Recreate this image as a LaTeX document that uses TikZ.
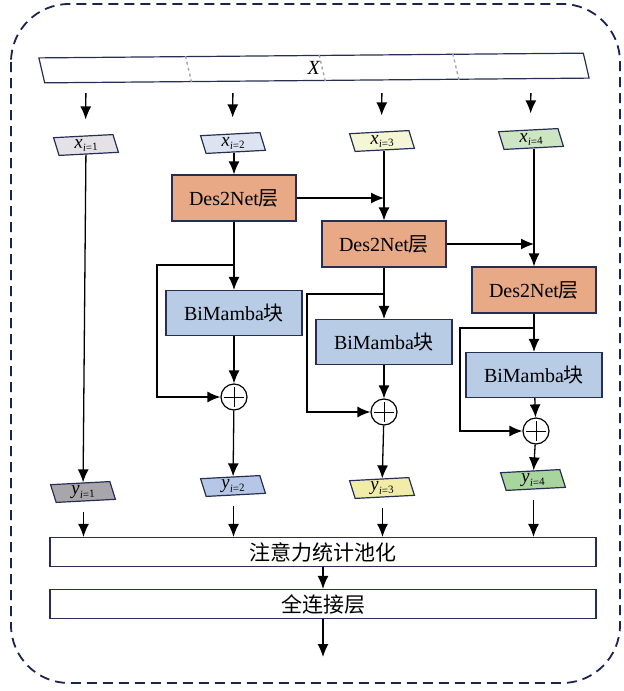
\documentclass[tikz,border=0pt]{standalone}
\usepackage{fontspec}
\setmainfont{Liberation Serif}
\newfontfamily\cjk{Noto Sans CJK SC}
\usepackage{tikz}
\usetikzlibrary{calc, arrows.meta, shapes.geometric}
\tikzset{>={Latex[length=13pt,width=11pt]}}
\definecolor{myframe}{RGB}{38, 46, 84}
\definecolor{mynavy}{RGB}{26, 36, 80}
\definecolor{mysalmon}{RGB}{232, 169, 135}
\definecolor{myblue}{RGB}{184, 204, 230}
\definecolor{myxa}{RGB}{228, 226, 230}
\definecolor{myxb}{RGB}{220, 227, 241}
\definecolor{myxc}{RGB}{244, 246, 213}
\definecolor{myxd}{RGB}{205, 229, 195}
\definecolor{myya}{RGB}{168, 166, 170}
\definecolor{myyb}{RGB}{182, 198, 230}
\definecolor{myyc}{RGB}{241, 237, 168}
\definecolor{myyd}{RGB}{168, 212, 158}
\newcommand{\zh}[1]{{\cjk #1}}
\newcommand{\sublab}[2]{\textit{#1}\raisebox{-0.2em}{\fontsize{11}{11}\selectfont\textit{i}=#2}}
\tikzset{
  blk/.style={draw=myframe, line width=1.2pt, minimum width=124pt, minimum height=46pt,
    font=\fontsize{20}{24}\selectfont},
  desnet/.style={blk, fill=mysalmon},
  mamba/.style={blk, fill=myblue, minimum width=136pt, minimum height=45pt},
  feat/.style={trapezium, trapezium left angle=110, trapezium right angle=70,
    trapezium stretches body=true, draw=myframe, line width=1.2pt, minimum width=64pt,
    minimum height=18pt, inner sep=0pt, rotate=3, font=\fontsize{19}{19}\selectfont},
  bar/.style={trapezium, trapezium left angle=113, trapezium right angle=67,
    trapezium stretches body=true, draw=myframe, line width=1.2pt, minimum width=550pt,
    minimum height=25pt, inner sep=0pt, rotate=0.5, font=\fontsize{20}{20}\selectfont},
  plus/.style={circle, draw, line width=1.2pt, minimum size=26pt, inner sep=0pt},
  wide/.style={draw=myframe, line width=1.2pt, minimum width=546pt, minimum height=29pt,
    font=\fontsize{21}{24}\selectfont},
}

\begin{document}
\begin{tikzpicture}[x=1pt, y=-1pt, line width=1.3pt]
\useasboundingbox (0,0) rectangle (624,691);
\draw[mynavy, line width=1.8pt, dash pattern=on 10pt off 6pt, rounded corners=58pt] (11,4) rectangle (620,683);

\node[bar] (X) at (314,68) {\textit{X}};
\foreach \f in {0.27,0.515,0.76}
  \draw[gray!70, dashed, line width=1.4pt] ($(X.top left corner)!\f!(X.top right corner)$) -- ($(X.bottom left corner)!\f!(X.bottom right corner)$);

\node[feat, fill=myxa] (x1) at (86,145) {\sublab{x}{1}};
\node[feat, fill=myxb] (x2) at (233,143) {\sublab{x}{2}};
\node[feat, fill=myxc] (x3) at (382,141) {\sublab{x}{3}};
\node[feat, fill=myxd] (x4) at (531,139) {\sublab{x}{4}};

\node[desnet] (d1) at (234,198) {Des2Net\zh{层}};
\node[desnet] (d2) at (384,244) {Des2Net\zh{层}};
\node[desnet] (d3) at (534,290) {Des2Net\zh{层}};
\node[mamba] (m1) at (234,313) {BiMamba\zh{块}};
\node[mamba] (m2) at (384,342) {BiMamba\zh{块}};
\node[mamba] (m3) at (534,375) {BiMamba\zh{块}};
\node[plus] (p1) at (234,397) {};
\node[plus] (p2) at (384,412) {};
\node[plus] (p3) at (536,431) {};
\foreach \p in {p1,p2,p3} {
  \draw[line width=1pt, shorten <=4pt, shorten >=4pt] (\p.north) -- (\p.south);
  \draw[line width=1pt, shorten <=4pt, shorten >=4pt] (\p.west) -- (\p.east);
}

\node[feat, fill=myya] (y1) at (83,492) {\sublab{y}{1}};
\node[feat, fill=myyb] (y2) at (233,486) {\sublab{y}{2}};
\node[feat, fill=myyc] (y3) at (382,488) {\sublab{y}{3}};
\node[feat, fill=myyd] (y4) at (533,480) {\sublab{y}{4}};

\node[wide] (pool) at (323,552) {\zh{注意力统计池化}};
\node[wide] (fc) at (323,604) {\zh{全连接层}};
\coordinate (out) at (323,657);

% inputs
\foreach \i in {1,...,4}
  \draw[->, shorten <=12pt, shorten >=16pt] (X.south -| x\i) -- (x\i.north);
\draw[->] (x1) -- (y1);
\draw[->] (x2.south -| d1) -- (d1);
\draw[->] (x3.south -| d2) -- (d2);
\draw[->] (x4.south -| d3) -- (d3);
\draw[->] (d1) -- (d1.east -| d2);
\draw[->] (d2) -- (d2.east -| d3);

% residual branches
\coordinate (b1) at (234,265);
\coordinate (b2) at (384,294);
\coordinate (b3) at (534,328);
\draw[->] (d1) -- (m1);
\draw[->] (d2) -- (m2);
\draw[->] (d3) -- (m3);
\draw[->] (b1) -- ++(-77,0) |- (p1);
\draw[->] (b2) -- ++(-77,0) |- (p2);
\draw[->] (b3) -- ++(-74,0) |- (p3);
\draw[->] (m1) -- (p1);
\draw[->] (m2) -- (p2);
\draw[->] (m3) -- (p3);
\draw[->] (p1) -- (y2);
\draw[->] (p2) -- (y3);
\draw[->] (p3) -- (y4);

% outputs
\foreach \i in {1,...,4}
  \draw[->, shorten <=10pt] (y\i.south) -- (y\i.south |- pool.north);
\draw[->] (pool) -- (fc);
\draw[->] (fc) -- (out);
\end{tikzpicture}
\end{document}
